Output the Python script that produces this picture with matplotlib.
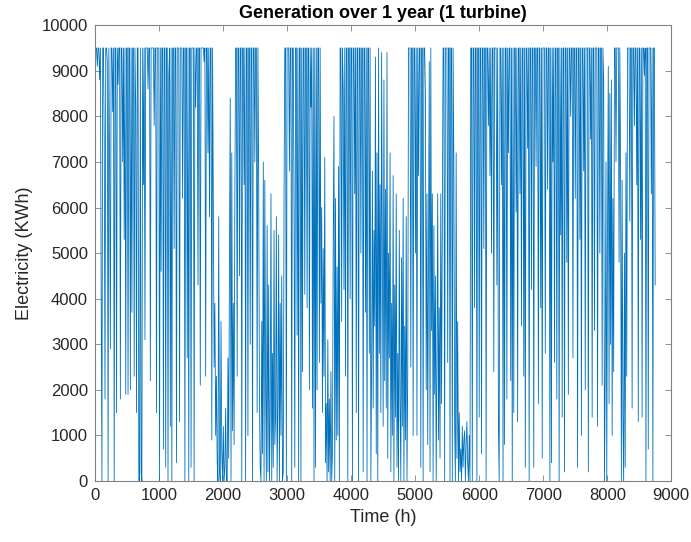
import numpy as np
import matplotlib
matplotlib.use("Agg")
import matplotlib.pyplot as plt

# Hourly turbine output, sampled every 12 h (kWh), rated cap 9500 kWh
step_h = 12

gen_0_1000 = [
    8500, 9500, 9500, 9100, 9500, 9500, 8800, 9500,
    4200, 0, 9500, 9500, 7400, 1800, 9500, 9500, 9200,
    0, 9500, 6900, 2900, 9500, 9500, 8100, 9500, 0,
    9500, 9500, 1500, 9500, 8700, 9500, 9500, 1800,
    9500, 9500, 7000, 9500, 5300, 9500, 1900, 9500,
    9500, 1900, 9500, 9500, 2000, 9500, 3700, 9500,
    9500, 2300, 9500, 8200, 1500, 9500, 9500, 0,
    0, 9500, 200, 0, 9500, 6500, 9500, 3100, 9500,
    9500, 9500, 8600, 9500, 9500, 2200, 9500, 9500,
    9500, 9500, 7800, 9500, 9500, 1500, 9500, 9500,
]
gen_1000_2000 = [
    9500, 0, 9500, 4600, 9500, 9500, 700, 9500, 9500,
    300, 9500, 9500, 0, 8900, 9500, 1200, 9500,
    0, 9500, 9500, 5100, 9500, 9500, 400, 9500,
    9500, 9500, 1300, 9500, 9500, 9500, 6200, 9500, 9500,
    0, 9500, 9500, 2700, 9500, 0, 9500, 9500,
    300, 9500, 9500, 9500, 0, 9500, 8200, 9500,
    9500, 4300, 9500, 9500, 2100, 9500, 9500, 9500, 9500,
    9200, 9500, 2300, 9500, 9500, 7200, 9500, 5800,
    9500, 9500, 900, 9500, 6100, 2500, 3900, 1000,
    2300, 400, 0, 5800, 200, 0, 3500, 600, 0,
]
gen_2000_3000 = [
    1200, 0, 300, 1600, 0, 0, 2700, 500,
    5000, 8400, 0, 7200, 1100, 3900, 800, 6300,
    9500, 9500, 2300, 9500, 9500, 4500, 9500, 9500, 0,
    9500, 9500, 6500, 9500, 0, 9500, 9500, 1000,
    9500, 9500, 3000, 9500, 9500, 0, 9500, 9500,
    7000, 9500, 9500, 1500, 9500, 6700, 1800, 300, 0,
    3500, 600, 7000, 0, 6600, 2100, 0, 5600,
    200, 4300, 0, 1500, 6300, 0, 2800, 300,
    5500, 800, 1400, 5800, 0, 1700, 5400, 0, 3900,
    1000, 4500, 0, 200, 6200, 9500, 9500, 0,
]
gen_3000_4000 = [
    9500, 9500, 9500, 6800, 9500, 9500, 0, 9500, 9500,
    6000, 300, 9500, 9500, 3200, 9500, 0, 9500, 9500,
    0, 9500, 2400, 9500, 9500, 4100, 9500, 9500,
    3800, 9500, 9500, 2000, 9500, 8200, 9500, 1600,
    9500, 0, 9500, 300, 9500, 2000, 9500, 9500, 2600,
    9500, 3900, 6000, 1500, 5100, 2300, 7100, 400,
    1700, 0, 3100, 200, 1800, 0, 2400, 0,
    600, 5300, 8000, 0, 6200, 900, 4700, 1000, 6900,
    0, 9500, 9500, 3500, 9500, 8600, 4200, 9500,
    2300, 9500, 9500, 0, 9500, 9500, 4000, 9500,
]
gen_4000_5000 = [
    9500, 0, 9500, 9500, 6300, 9500, 1500, 9500, 9500,
    0, 9500, 9500, 5000, 9500, 9500, 200, 9500,
    9500, 3700, 9500, 0, 9500, 9500, 2800, 9500,
    0, 2500, 6800, 1600, 5500, 3400, 9300, 600, 7200,
    0, 9500, 2800, 6500, 1500, 9400, 4700, 1200,
    8800, 2200, 6400, 1600, 9400, 500, 5000, 2700,
    7200, 200, 3900, 1000, 6700, 0, 4300, 1400, 6300,
    300, 2800, 0, 5500, 1800, 0, 4900, 1200,
    6200, 0, 3400, 900, 5800, 0, 2300, 9500,
    9500, 9500, 2500, 9500, 9500, 1000, 9500, 9500, 5000,
]
gen_5000_6000 = [
    9500, 1000, 9500, 6700, 9500, 9500, 300, 9500,
    9500, 0, 9500, 9500, 8500, 2000, 6300, 800,
    4800, 9200, 200, 9500, 3300, 6300, 0, 5600, 1900,
    4500, 0, 2600, 6300, 900, 3800, 500, 6300,
    1700, 5400, 9500, 9500, 0, 9500, 9500, 9500,
    2600, 9500, 9500, 0, 9500, 9500, 0, 9500, 7000,
    1200, 0, 7200, 500, 3500, 0, 1500, 200,
    700, 0, 1200, 300, 900, 1100, 0, 800,
    1300, 400, 0, 1000, 0, 9500, 9500, 0, 9500,
    9500, 3800, 9500, 9500, 0, 9500, 9500, 1400,
]
gen_6000_7000 = [
    9500, 9500, 600, 9500, 9500, 5100, 9500, 9500,
    0, 9500, 9500, 7800, 9500, 6700, 9500, 5000, 9500,
    9500, 2400, 9500, 9500, 9500, 4300, 9500, 1200,
    0, 9500, 9500, 6500, 9500, 0, 9500, 800,
    9500, 9500, 1800, 9500, 7200, 9500, 9500, 2200, 9500,
    0, 9500, 1500, 9500, 9500, 5900, 9500, 1300,
    9500, 9500, 6300, 9500, 3400, 9500, 9500, 2300,
    9500, 300, 9500, 9500, 7300, 9500, 0, 9500, 9500,
    4200, 9500, 9500, 300, 9500, 9500, 6900, 9500,
    9500, 1700, 9500, 9500, 3800, 9500, 500, 9500,
]
gen_7000_8000 = [
    9500, 9500, 2800, 9500, 9500, 6400, 9500, 9500, 0,
    9500, 400, 9500, 7000, 9500, 2600, 9500, 9500,
    1800, 9500, 9500, 0, 9500, 5400, 9500, 1400,
    9500, 9500, 200, 9500, 9500, 4800, 9500, 1900, 9500,
    9500, 8000, 9500, 9500, 2700, 9500, 9500, 6200,
    9500, 9500, 300, 9500, 9500, 5300, 9500, 1000,
    9500, 9500, 6800, 9500, 2000, 9500, 9500, 9500, 200,
    9500, 9500, 7500, 9500, 1400, 9500, 9500, 3300,
    9500, 9500, 9500, 1200, 9500, 9500, 5000, 9500,
    9500, 2100, 9500, 8800, 0, 2300, 7000, 0, 5500,
]
gen_8000_8760 = [
    9100, 1700, 8500, 3000, 8800, 1000, 6200, 2400,
    9500, 9500, 7000, 9500, 9500, 9500, 4800, 9500,
    7000, 0, 6600, 1400, 0, 5000, 300, 7200, 2300,
    9500, 9500, 9500, 5700, 9500, 9500, 1600, 9500,
    9500, 7800, 9500, 9500, 6500, 9500, 1300, 9500,
    9500, 5300, 9500, 1400, 9500, 9500, 8900, 9500, 0,
    9500, 9500, 700, 9500, 9500, 9500, 6300, 9500,
    0, 9500, 9500, 4300,
]

gen = np.array(gen_0_1000 + gen_1000_2000 + gen_2000_3000 + gen_3000_4000
               + gen_4000_5000 + gen_5000_6000 + gen_6000_7000
               + gen_7000_8000 + gen_8000_8760)
t = np.arange(len(gen)) * step_h

plt.rcParams["font.family"] = ["Liberation Sans", "DejaVu Sans"]

fig = plt.figure(figsize=(6.91, 5.42), dpi=100)
ax = fig.add_axes([0.1375, 0.1125, 0.834, 0.841])

ax.plot(t, gen, color="#0072BD", linewidth=0.6)

ax.set_xlim(0, 9000)
ax.set_ylim(0, 10000)
ax.set_xticks(np.arange(0, 9001, 1000))
ax.set_yticks(np.arange(0, 10001, 1000))

gray = "#262626"
for s in ax.spines.values():
    s.set_color("#808080")
    s.set_linewidth(0.8)
ax.tick_params(direction="in", length=4, width=0.6, color="#808080",
               labelsize=12, labelcolor=gray, top=True, right=True, pad=5)

ax.set_xlabel("Time (h)", fontsize=13, color=gray, labelpad=4)
ax.set_ylabel("Electricity (KWh)", fontsize=13, color=gray, labelpad=6)
ax.set_title("Generation over 1 year (1 turbine)", fontsize=13,
             fontweight="bold", pad=5)

fig.savefig("out.png", dpi=100)
